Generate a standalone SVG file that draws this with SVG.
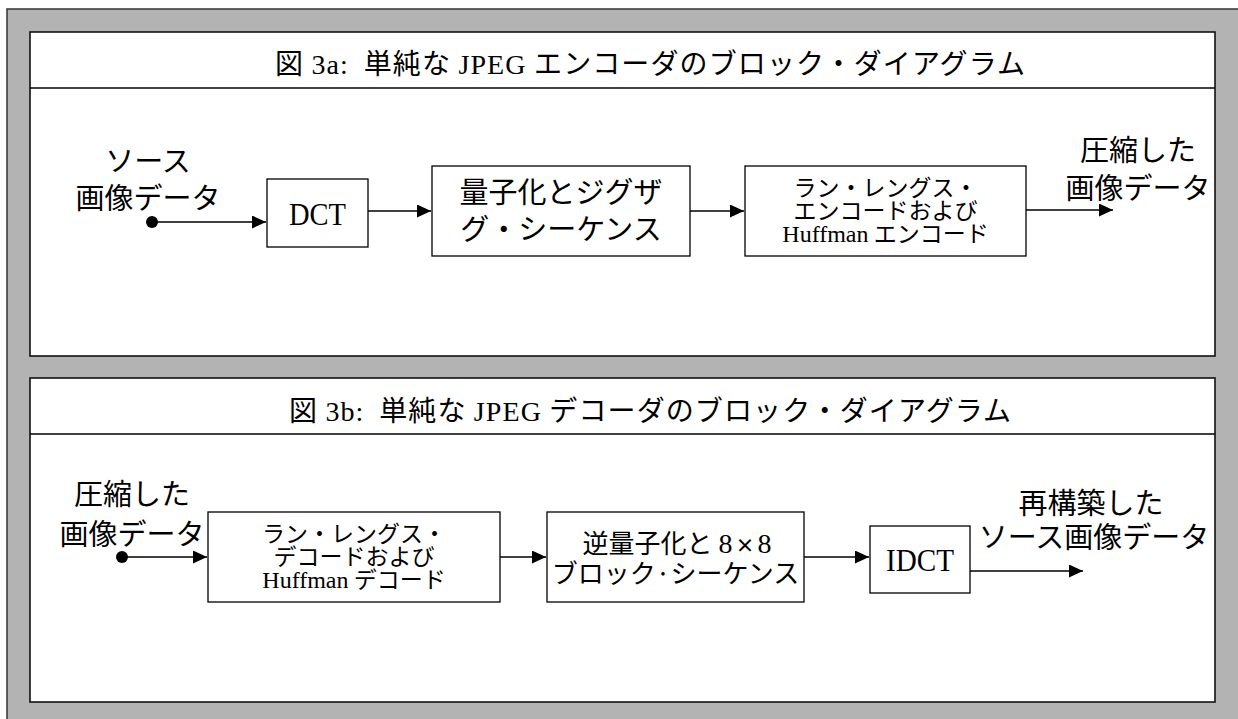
<svg xmlns="http://www.w3.org/2000/svg" width="1238" height="719" viewBox="0 0 1238 719">
<style>
.jp{font-family:"Noto Sans CJK JP","Noto Sans",sans-serif;fill:#000}
.lt{font-family:"Liberation Serif","Times New Roman",serif}
.box{fill:#fff;stroke:#000;stroke-width:1.3}
.panel{fill:#fff;stroke:#111;stroke-width:1.6}
.sep{stroke:#000;stroke-width:1.3}
.wire{stroke:#000;stroke-width:1.3;fill:none;marker-end:url(#ah)}
.mid{text-anchor:middle}
</style>
<defs>
<marker id="ah" markerUnits="userSpaceOnUse" markerWidth="15" markerHeight="14" refX="14" refY="6.5" orient="auto"><path d="M0,0 L14,6.5 L0,13 z" fill="#000"/></marker>
</defs>
<rect x="0" y="0" width="1238" height="719" fill="#fff"/>
<rect id="frame" x="7" y="9" width="1240" height="720" fill="#b3b3b3" stroke="#333" stroke-width="1.5"/>

<g id="panel-a">
<rect class="panel" x="30" y="32" width="1185" height="324"/>
<line class="sep" x1="30" y1="88" x2="1215" y2="88"/>
<text class="jp" x="275" y="74" font-size="28" textLength="750" lengthAdjust="spacing" xml:space="preserve">図 <tspan class="lt">3a:</tspan>  単純な <tspan class="lt">JPEG</tspan> エンコーダのブロック・ダイアグラム</text>
</g>

<g id="panel-b">
<rect class="panel" x="30" y="378" width="1185" height="324"/>
<line class="sep" x1="30" y1="434" x2="1215" y2="434"/>
<text class="jp" x="289" y="421" font-size="28" textLength="722" lengthAdjust="spacing" xml:space="preserve">図 <tspan class="lt">3b:</tspan>  単純な <tspan class="lt">JPEG</tspan> デコーダのブロック・ダイアグラム</text>
</g>

<g id="src-a">
<text class="jp mid" x="148" y="172" font-size="29">ソース</text>
<text class="jp mid" x="148" y="209" font-size="29">画像データ</text>
<circle cx="152" cy="222" r="6" fill="#000"/>
</g>

<g id="dct">
<rect class="box" x="267" y="179" width="101" height="68"/>
<text class="lt mid" x="317.5" y="225" font-size="31" textLength="57" lengthAdjust="spacingAndGlyphs">DCT</text>
</g>

<g id="quant">
<rect class="box" x="432" y="166" width="258" height="90"/>
<text class="jp mid" x="561" y="203" font-size="29">量子化とジグザ</text>
<text class="jp mid" x="561" y="240" font-size="29">グ・シーケンス</text>
</g>

<g id="rle-enc">
<rect class="box" x="745" y="166" width="281" height="90"/>
<text class="jp mid" x="885.5" y="196" font-size="23">ラン・レングス・</text>
<text class="jp mid" x="885.5" y="219" font-size="23">エンコードおよび</text>
<text class="jp mid" x="885.5" y="242" font-size="23"><tspan class="lt" font-size="24">Huffman</tspan> エンコード</text>
</g>

<g id="out-a">
<text class="jp mid" x="1138" y="161" font-size="29">圧縮した</text>
<text class="jp mid" x="1138" y="199" font-size="29">画像データ</text>
</g>

<g id="src-b">
<text class="jp mid" x="132" y="505" font-size="29">圧縮した</text>
<text class="jp mid" x="132" y="545" font-size="29">画像データ</text>
<circle cx="122" cy="557" r="6" fill="#000"/>
</g>

<g id="rle-dec">
<rect class="box" x="208" y="512" width="292" height="90"/>
<text class="jp mid" x="354" y="542" font-size="23">ラン・レングス・</text>
<text class="jp mid" x="354" y="565" font-size="23">デコードおよび</text>
<text class="jp mid" x="354" y="588" font-size="23"><tspan class="lt" font-size="24">Huffman</tspan> デコード</text>
</g>

<g id="dequant">
<rect class="box" x="547" y="512" width="257" height="90"/>
<text class="jp mid" x="677" y="553" font-size="26">逆量子化と <tspan class="lt" font-size="28">8</tspan><tspan font-size="19" font-weight="bold" dx="3">×</tspan><tspan class="lt" font-size="28" dx="3">8</tspan></text>
<text class="jp mid" x="675.5" y="583" font-size="26">ブロック·シーケンス</text>
</g>

<g id="idct">
<rect class="box" x="870" y="526" width="100" height="67"/>
<text class="lt mid" x="920" y="571" font-size="31" textLength="68" lengthAdjust="spacingAndGlyphs">IDCT</text>
</g>

<g id="out-b">
<text class="jp mid" x="1091" y="514" font-size="29">再構築した</text>
<text class="jp mid" x="1094" y="548" font-size="29">ソース画像データ</text>
</g>

<g id="connectors">
<line class="wire" x1="152" y1="222" x2="266" y2="222"/>
<line class="wire" x1="368" y1="211" x2="431" y2="211"/>
<line class="wire" x1="690" y1="211" x2="744" y2="211"/>
<line class="wire" x1="1026" y1="210" x2="1113" y2="210"/>
<line class="wire" x1="122" y1="557" x2="207" y2="557"/>
<line class="wire" x1="500" y1="557" x2="546" y2="557"/>
<line class="wire" x1="804" y1="557" x2="869" y2="557"/>
<line class="wire" x1="970" y1="571" x2="1083" y2="571"/>
</g>
</svg>
